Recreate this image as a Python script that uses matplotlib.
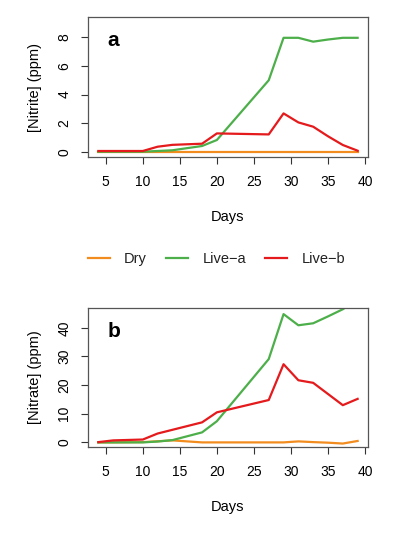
import matplotlib.pyplot as plt

plt.rcParams['font.family'] = ['Liberation Sans', 'DejaVu Sans']

days = [4, 6, 10, 12, 14, 18, 20, 27, 29, 31, 33, 35, 37, 39]

# Nitrite (ppm)
nitrite_dry = [0.0, 0.0, 0.0, 0.0, 0.0, 0.0, 0.0, 0.0, 0.0, 0.0, 0.0, 0.0, 0.0, 0.0]
nitrite_live_a = [0.0, 0.0, 0.0, 0.05, 0.1, 0.4, 0.82, 5.0, 7.97, 7.97, 7.7, 7.85, 7.97, 7.97]
nitrite_live_b = [0.05, 0.05, 0.05, 0.35, 0.48, 0.56, 1.28, 1.21, 2.68, 2.05, 1.75, 1.08, 0.47, 0.07]

# Nitrate (ppm)
nitrate_dry = [0.0, 0.0, 0.1, 0.4, 0.7, 0.0, 0.0, 0.0, 0.0, 0.35, 0.1, -0.1, -0.4, 0.5]
nitrate_live_a = [0.0, 0.0, 0.0, 0.3, 0.8, 3.5, 7.4, 29.1, 44.8, 40.9, 41.6, 44.0, 46.5, 50.0]
nitrate_live_b = [0.1, 0.7, 1.0, 3.1, 4.4, 7.0, 10.5, 14.8, 27.3, 21.7, 20.8, 16.9, 13.0, 15.2]

labels = ['Dry', 'Live\u2212a', 'Live\u2212b']
colors = ['#F28C1E', '#4DAF4A', '#E41A1C']

fig = plt.figure(figsize=(4.0, 5.34), dpi=100)
ax1 = fig.add_axes([0.22, 0.706, 0.70, 0.262])
ax2 = fig.add_axes([0.22, 0.1635, 0.70, 0.259])


def style(ax, ylabel, letter, ylim, yticks):
    ax.set_xlim(2.6, 40.4)
    ax.set_ylim(*ylim)
    ax.set_xticks([5, 10, 15, 20, 25, 30, 35, 40])
    ax.set_yticks(yticks)
    ax.tick_params(axis='both', length=5, width=0.8, color='#333333', labelsize=10)
    ax.tick_params(axis='x', pad=8)
    ax.tick_params(axis='y', pad=7)
    for lab in ax.get_yticklabels():
        lab.set_rotation(90)
        lab.set_va('center')
    for s in ax.spines.values():
        s.set_color('#555555')
        s.set_linewidth(0.9)
    ax.set_xlabel('Days', fontsize=10.5, labelpad=15)
    ax.set_ylabel(ylabel, fontsize=10.5, labelpad=11)
    ax.text(0.07, 0.83, letter, transform=ax.transAxes, fontsize=15,
            fontweight='bold', va='center', ha='left')


for vals, c in zip([nitrite_dry, nitrite_live_a, nitrite_live_b], colors):
    ax1.plot(days, vals, color=c, lw=1.6)
style(ax1, '[Nitrite] (ppm)', 'a', (-0.37, 9.42), [0, 2, 4, 6, 8])

handles = []
for vals, c, lab in zip([nitrate_dry, nitrate_live_a, nitrate_live_b], colors, labels):
    h, = ax2.plot(days, vals, color=c, lw=1.6, label=lab)
    handles.append(h)
style(ax2, '[Nitrate] (ppm)', 'b', (-1.5, 46.8), [0, 10, 20, 30, 40])

leg = fig.legend(handles=handles, labels=labels, loc='center', ncol=3,
                 bbox_to_anchor=(0.541, 1 - 259 / 534), frameon=False, fontsize=10.5,
                 handlelength=1.5, columnspacing=1.3, handletextpad=1.0)
for t in leg.get_texts():
    t.set_color('#222222')

fig.savefig('out.png', dpi=100)
